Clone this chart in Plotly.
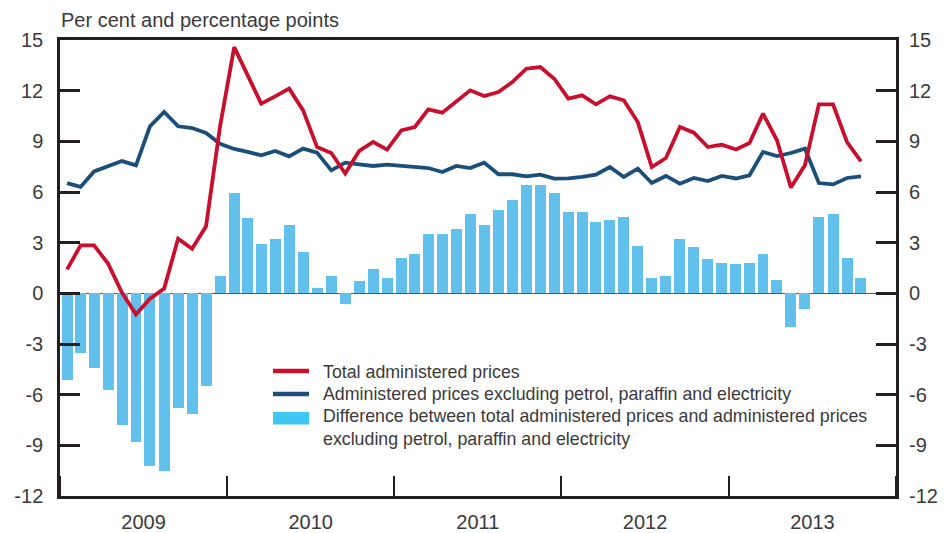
import plotly.graph_objects as go

months = [f"{y}-{m:02d}-01" for y in range(2009, 2014) for m in range(1, 13)][:58]

total_admin = [1.42, 2.84, 2.84, 1.76, 0.03, -1.24, -0.32, 0.28, 3.24, 2.64, 3.97, 9.87,
               14.58, 12.9, 11.23, 11.66, 12.12, 10.83, 8.66, 8.31, 7.09, 8.43, 8.96, 8.51,
               9.65, 9.85, 10.89, 10.70, 11.33, 12.02, 11.68, 11.92, 12.51, 13.30, 13.40, 12.71,
               11.53, 11.72, 11.19, 11.66, 11.43, 10.14, 7.48, 8.01, 9.85, 9.51, 8.66, 8.80,
               8.52, 8.90, 10.64, 9.06, 6.26, 7.58, 11.19, 11.19, 8.96, 7.82]

admin_excl = [6.53, 6.30, 7.22, 7.52, 7.83, 7.58, 9.89, 10.74, 9.89, 9.79, 9.49, 8.86,
              8.55, 8.37, 8.17, 8.43, 8.11, 8.57, 8.33, 7.28, 7.74, 7.64, 7.54, 7.62,
              7.54, 7.52, 7.42, 7.18, 7.54, 7.42, 7.74, 7.05, 7.05, 6.93, 7.03, 6.79,
              6.81, 6.89, 7.03, 7.48, 6.89, 7.38, 6.53, 6.95, 6.49, 6.83, 6.65, 6.95,
              6.80, 6.99, 8.37, 8.13, 8.31, 8.57, 6.53, 6.45, 6.83, 6.93]

difference = [-5.11, -3.53, -4.42, -5.72, -7.80, -8.80, -10.22, -10.52, -6.79, -7.14, -5.49, 1.01,
              5.96, 4.48, 2.90, 3.20, 4.03, 2.43, 0.30, 1.01, -0.63, 0.71, 1.42, 0.89,
              2.07, 2.31, 3.49, 3.49, 3.79, 4.68, 4.03, 4.91, 5.51, 6.39, 6.39, 5.92,
              4.80, 4.80, 4.20, 4.32, 4.50, 2.78, 0.89, 1.01, 3.20, 2.72, 2.01, 1.78,
              1.72, 1.78, 2.31, 0.77, -1.97, -0.93, 4.50, 4.68, 2.07, 0.89]

y_ticks = [-12, -9, -6, -3, 0, 3, 6, 9, 12, 15]
y_tick_labels = ["-12", "-9", "-6", "-3", "0", "3", "6", "9", "12", "15"]

legend_labels = ["Total administered prices",
                 "Administered prices excluding petrol, paraffin and electricity",
                 "Difference between total administered prices and administered prices<br>excluding petrol, paraffin and electricity"]

RED = "#c8102e"
BLUE = "#1b4f7a"
LIGHT = "#61c0ec"
AXIS = "#231f20"
TEXT = "#3a3a3a"
FONT = "Liberation Sans, Arial, sans-serif"

# the page body has an 8px default margin, so the figure is drawn offset by 8px
OFF = 8
W, H = 947 - OFF, 533 - OFF
PL, PT, PR, PB = 60, 40, 896, 496          # plot area in screen pixels
ML, MT = PL - OFF, PT - OFF
PW, PH = PR - PL, PB - PT
MR, MB = W - ML - PW, H - MT - PH


def px(x):
    return (x - PL) / PW


def py(y):
    return (PB - y) / PH


fig = go.Figure()
bar_w = 24 * 86400000
fig.add_trace(go.Bar(x=months, y=difference, xperiod="M1", xperiodalignment="middle",
                     width=bar_w, marker=dict(color=LIGHT, line=dict(width=0)),
                     showlegend=False))
fig.add_trace(go.Scatter(x=months, y=admin_excl, xperiod="M1", xperiodalignment="middle",
                         mode="lines", line=dict(color=BLUE, width=3.8), showlegend=False))
fig.add_trace(go.Scatter(x=months, y=total_admin, xperiod="M1", xperiodalignment="middle",
                         mode="lines", line=dict(color=RED, width=3.8), showlegend=False))
# invisible trace to activate right axis
fig.add_trace(go.Scatter(x=[months[0]], y=[0], yaxis="y2", mode="markers",
                         marker=dict(opacity=0), showlegend=False, hoverinfo="skip"))

axis_font = dict(family=FONT, size=20, color=TEXT)
fig.update_layout(
    width=W, height=H,
    margin=dict(l=ML, r=MR, t=MT, b=MB, autoexpand=False),
    paper_bgcolor="white", plot_bgcolor="white",
    showlegend=False,
    bargap=0,
    xaxis=dict(type="date", range=["2009-01-01", "2014-01-01"], automargin=False,
               tick0="2009-01-01", dtick="M12", tickformat="%Y", ticklabelmode="period",
               ticks="inside", ticklen=20, tickwidth=2, tickcolor=AXIS,
               showline=True, linecolor=AXIS, linewidth=2.5, mirror=True,
               showgrid=False, zeroline=False, tickfont=axis_font, ticklabelstandoff=6),
    yaxis=dict(range=[-12, 15], tickvals=y_ticks, ticktext=y_tick_labels, automargin=False,
               ticks="inside", ticklen=20, tickwidth=2.5,
               tickcolor=AXIS, showline=True, linecolor=AXIS, linewidth=2.5, mirror=True,
               showgrid=False, zeroline=True, zerolinecolor="#555555", zerolinewidth=1,
               tickfont=axis_font, ticklabelstandoff=10),
    yaxis2=dict(range=[-12, 15], tickvals=y_ticks, ticktext=y_tick_labels, automargin=False,
                overlaying="y", side="right",
                ticks="inside", ticklen=20, tickwidth=2.5, tickcolor=AXIS,
                showline=False, showgrid=False, zeroline=False,
                tickfont=axis_font, ticklabelstandoff=12),
)

fig.add_annotation(text="Per cent and percentage points", xref="paper", yref="paper",
                   x=px(59), y=py(19.5), xanchor="left", yanchor="middle", showarrow=False,
                   font=dict(family=FONT, size=20, color=TEXT))

# manual legend
leg_font = dict(family=FONT, size=17.8, color=TEXT)
fig.add_shape(type="line", xref="paper", yref="paper", x0=px(273), x1=px(309),
              y0=py(371), y1=py(371), line=dict(color=RED, width=4.5))
fig.add_shape(type="line", xref="paper", yref="paper", x0=px(273), x1=px(309),
              y0=py(394), y1=py(394), line=dict(color=BLUE, width=4.5))
fig.add_shape(type="rect", xref="paper", yref="paper", x0=px(273), x1=px(309),
              y0=py(412), y1=py(424.5), line=dict(width=0), fillcolor="#3ec7f2")
fig.add_annotation(text=legend_labels[0], xref="paper", yref="paper", x=px(321), y=py(372),
                   xanchor="left", yanchor="middle", showarrow=False, font=leg_font)
fig.add_annotation(text=legend_labels[1], xref="paper", yref="paper", x=px(321), y=py(394),
                   xanchor="left", yanchor="middle", showarrow=False, font=leg_font)
fig.add_annotation(text=legend_labels[2], xref="paper", yref="paper", x=px(321), y=py(427.5),
                   xanchor="left", yanchor="middle", align="left", showarrow=False, font=leg_font)

fig.write_html("out.html")
